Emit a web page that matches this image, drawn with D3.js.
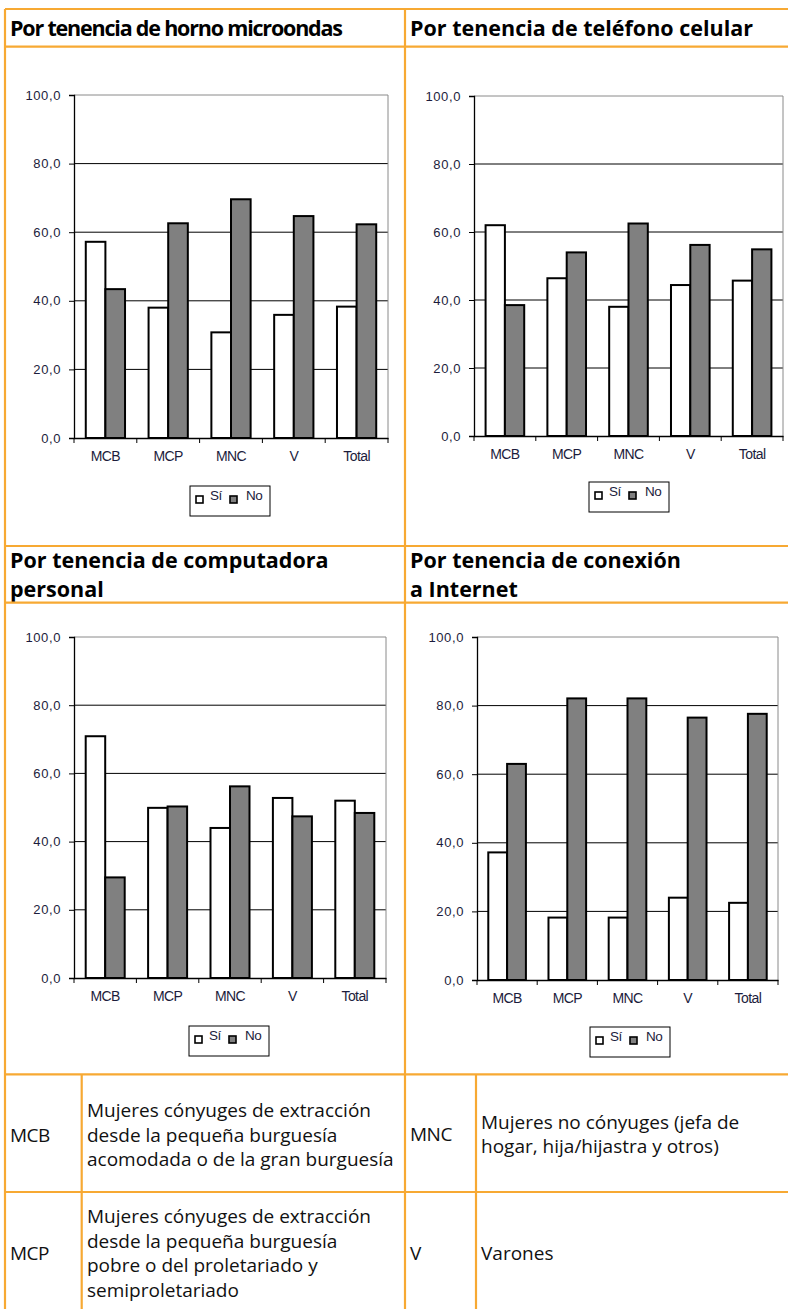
<!DOCTYPE html>
<html>
<head>
<meta charset="utf-8">
<script src="https://cdn.jsdelivr.net/npm/d3@7"></script>
<style>
  body { margin: 0; background: #fff; }
  svg { display: block; }
</style>
</head>
<body>
<div id="chart"></div>
<script>
// categorias y series
const categories = ['MCB', 'MCP', 'MNC', 'V', 'Total'];
const seriesNames = ['Sí', 'No'];
const yTicks = [0, 20, 40, 60, 80, 100];

const microondasSi = [57.2, 38.0, 30.8, 35.9, 38.3];
const microondasNo = [43.4, 62.6, 69.6, 64.7, 62.3];
const celularSi = [62.0, 46.4, 38.0, 44.4, 45.7];
const celularNo = [38.5, 54.0, 62.5, 56.2, 54.9];
const computadoraSi = [70.9, 49.9, 44.0, 52.8, 52.0];
const computadoraNo = [29.5, 50.3, 56.2, 47.4, 48.4];
const internetSi = [37.2, 18.2, 18.2, 24.0, 22.5];
const internetNo = [63.0, 82.1, 82.1, 76.5, 77.6];

const panelTitles = [
    ['Por tenencia de horno microondas'],
    ['Por tenencia de teléfono celular'],
    ['Por tenencia de computadora', 'personal'],
    ['Por tenencia de conexión', 'a Internet']
];

const tableCodes = ['MCB', 'MNC', 'MCP', 'V'];
const tableTexts = [
    ['Mujeres cónyuges de extracción', 'desde la pequeña burguesía', 'acomodada o de la gran burguesía'],
    ['Mujeres no cónyuges (jefa de', 'hogar, hija/hijastra y otros)'],
    ['Mujeres cónyuges de extracción', 'desde la pequeña burguesía', 'pobre o del proletariado y', 'semiproletariado'],
    ['Varones']
];

const W = 788, H = 1309;
const orange = '#f7a933';
const navy = '#1c1c3c';
const titleFont = 'Open Sans, sans-serif';

const svg = d3.select('#chart')
    .append('svg')
    .attr('width', W)
    .attr('height', H);

// medir el ancho del titulo de referencia para ajustar el tamaño
const probe = svg.append('text')
    .attr('font-family', titleFont)
    .attr('font-weight', 'bold')
    .attr('font-size', 20)
    .text(panelTitles[1][0]);
const titleSize = 20 * 343 / probe.node().getComputedTextLength();
probe.remove();

// marcos (layout de cada panel)
const frames = [
    { si: microondasSi, no: microondasNo, left: 74, right: 388, top: 95, bottom: 438, tx: 10, ty: 36, lx: 190, ly: 486, fit: 333 },
    { si: celularSi, no: celularNo, left: 474, right: 783, top: 96, bottom: 436, tx: 410, ty: 36, lx: 589, ly: 482 },
    { si: computadoraSi, no: computadoraNo, left: 74, right: 386, top: 637, bottom: 978, tx: 10, ty: 568, lx: 189, ly: 1026 },
    { si: internetSi, no: internetNo, left: 477, right: 778, top: 637, bottom: 980, tx: 410, ty: 568, lx: 590, ly: 1027 }
];

frames.forEach((f, i) => drawPanel(f, panelTitles[i]));

function drawPanel(f, title) {
    const g = svg.append('g');

    // titulo
    const t = g.append('text')
        .attr('x', f.tx)
        .attr('y', f.ty)
        .attr('font-family', titleFont)
        .attr('font-weight', 'bold')
        .attr('font-size', titleSize)
        .attr('fill', '#000');
    title.forEach((line, k) => {
        t.append('tspan').attr('x', f.tx).attr('dy', k === 0 ? 0 : 28.5).text(line);
    });
    if (f.fit) {
        const w = t.node().getComputedTextLength();
        const n = title[0].length - 1;
        t.attr('letter-spacing', (f.fit - w) / n);
    }

    const x0 = d3.scaleBand()
        .domain(categories)
        .range([f.left, f.right])
        .paddingInner(0)
        .paddingOuter(0);
    const x1 = d3.scaleBand()
        .domain(seriesNames)
        .range([0, x0.bandwidth()])
        .paddingInner(0)
        .paddingOuter(0.6);
    const y = d3.scaleLinear()
        .domain([0, 100])
        .range([f.bottom, f.top]);

    // grid
    g.append('g')
        .selectAll('line')
        .data(yTicks.filter(d => d > 0))
        .join('line')
        .attr('x1', f.left)
        .attr('x2', f.right)
        .attr('y1', d => y(d))
        .attr('y2', d => y(d))
        .attr('stroke', d => d === 100 ? '#8a8a8a' : '#000')
        .attr('stroke-width', 1);
    g.append('line')
        .attr('x1', f.right).attr('x2', f.right)
        .attr('y1', y(100)).attr('y2', y(0))
        .attr('stroke', '#8a8a8a');

    // barras
    const rows = categories.map((c, k) => ({ cat: c, values: [f.si[k], f.no[k]] }));
    g.append('g')
        .selectAll('g')
        .data(rows)
        .join('g')
        .attr('transform', d => `translate(${x0(d.cat)},0)`)
        .selectAll('rect')
        .data(d => d.values.map((v, k) => ({ key: seriesNames[k], value: v })))
        .join('rect')
        .attr('x', d => x1(d.key))
        .attr('y', d => y(d.value))
        .attr('width', x1.bandwidth())
        .attr('height', d => y(0) - y(d.value))
        .attr('fill', d => d.key === 'Sí' ? '#fff' : '#808080')
        .attr('stroke', '#000')
        .attr('stroke-width', 2);

    // eje y
    const yAxis = g.append('g')
        .attr('transform', `translate(${f.left},0)`)
        .call(d3.axisLeft(y)
            .tickValues(yTicks)
            .tickSize(5)
            .tickPadding(8)
            .tickFormat(d => d.toFixed(1).replace('.', ',')));
    yAxis.select('.domain').attr('stroke', '#000').attr('stroke-width', 1.3);
    yAxis.selectAll('text')
        .attr('font-family', 'Liberation Sans, Arial, sans-serif')
        .attr('font-size', 13)
        .attr('letter-spacing', 0.6)
        .attr('fill', navy);

    // eje x
    const xAxis = g.append('g')
        .attr('transform', `translate(0,${f.bottom})`)
        .call(d3.axisBottom(x0).tickSize(0).tickPadding(13));
    xAxis.select('.domain').attr('stroke', '#000').attr('stroke-width', 1.3);
    xAxis.selectAll('text')
        .attr('font-family', 'Liberation Sans, Arial, sans-serif')
        .attr('font-size', 14)
        .attr('letter-spacing', -0.6)
        .attr('fill', navy);
    xAxis.append('g')
        .selectAll('line')
        .data(categories.map(c => x0(c)).concat([f.right]))
        .join('line')
        .attr('x1', d => d).attr('x2', d => d)
        .attr('y1', 0).attr('y2', 5)
        .attr('stroke', '#000');

    // leyenda
    const lg = g.append('g').attr('transform', `translate(${f.lx},${f.ly})`);
    lg.append('rect')
        .attr('width', 80).attr('height', 30)
        .attr('fill', '#fff').attr('stroke', '#000').attr('stroke-width', 1);
    const items = lg.selectAll('g')
        .data(seriesNames)
        .join('g')
        .attr('transform', (d, k) => `translate(${6 + k * 34},10)`);
    items.append('rect')
        .attr('width', 7).attr('height', 7)
        .attr('fill', d => d === 'Sí' ? '#fff' : '#808080')
        .attr('stroke', '#000').attr('stroke-width', 1.6);
    items.append('text')
        .attr('x', d => d === 'Sí' ? 14 : 16)
        .attr('y', 4)
        .attr('font-family', 'Liberation Sans, Arial, sans-serif')
        .attr('font-size', 13.5)
        .attr('letter-spacing', -0.5)
        .attr('fill', navy)
        .text(d => d);
}

// tabla de siglas
const cells = [
    { code: 0, x: 10, tx: 87, base: 1141.5 },
    { code: 1, x: 410, tx: 481, base: 1141 },
    { code: 2, x: 10, tx: 87, base: 1260 },
    { code: 3, x: 410, tx: 481, base: 1260 }
];
const lineH = 24.5;
const tableFont = 'Open Sans, sans-serif';
cells.forEach(c => {
    svg.append('text')
        .attr('x', c.x)
        .attr('y', c.base)
        .attr('font-family', tableFont)
        .attr('font-size', 19)
        .attr('letter-spacing', -0.5)
        .attr('fill', '#111')
        .text(tableCodes[c.code]);
    const lines = tableTexts[c.code];
    const first = c.base - (lines.length - 1) * lineH / 2;
    svg.append('g')
        .selectAll('text')
        .data(lines)
        .join('text')
        .attr('x', c.tx)
        .attr('y', (d, k) => first + k * lineH)
        .attr('font-family', tableFont)
        .attr('font-size', 19)
        .attr('letter-spacing', 0)
        .attr('fill', '#111')
        .text(d => d);
});

// lineas naranjas
const hLines = [9, 46.7, 546, 602.7, 1074.3, 1192];
const vLines = [[5, 9, H], [405, 9, H], [81.7, 1074.3, H], [476, 1074.3, H]];
svg.append('g')
    .selectAll('line')
    .data(hLines)
    .join('line')
    .attr('x1', 5).attr('x2', W)
    .attr('y1', d => d).attr('y2', d => d)
    .attr('stroke', orange).attr('stroke-width', 2.2);
svg.append('g')
    .selectAll('line')
    .data(vLines)
    .join('line')
    .attr('x1', d => d[0]).attr('x2', d => d[0])
    .attr('y1', d => d[1]).attr('y2', d => d[2])
    .attr('stroke', orange).attr('stroke-width', 2.2);
</script>
</body>
</html>
